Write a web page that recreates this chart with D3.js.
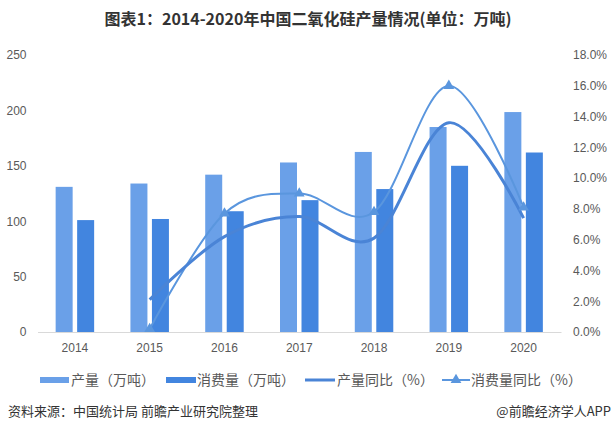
<!DOCTYPE html>
<html>
<head>
<meta charset="utf-8">
<script src="https://cdn.jsdelivr.net/npm/d3@7"></script>
<style>
  body { margin: 0; background: #fff; }
  text { font-family: "Noto Sans CJK SC", "Noto Sans", sans-serif; }
</style>
</head>
<body>
<div id="chart"></div>
<script>
var years = ["2014", "2015", "2016", "2017", "2018", "2019", "2020"];
var production = [131, 134, 142, 153, 162.5, 185, 198.5];
var consumption = [101, 102, 109, 119, 129, 150, 162];
var prodGrowth = [null, 2.1, 6.2, 7.5, 6.1, 13.6, 7.4];
var consGrowth = [null, 0.2, 7.7, 9.0, 7.8, 16.0, 8.1];
var leftTicks = [0, 50, 100, 150, 200, 250];
var rightTicks = [0, 2, 4, 6, 8, 10, 12, 14, 16, 18];

var W = 614, H = 433;
var plotLeft = 37.5, plotRight = 561, plotTop = 55, plotBottom = 332;

var svg = d3.select("#chart").append("svg")
    .attr("width", W)
    .attr("height", H);

// title
svg.append("text")
    .attr("x", W / 2 + 1)
    .attr("y", 25)
    .attr("text-anchor", "middle")
    .style("font-size", "16px")
    .style("font-weight", "bold")
    .style("fill", "#333")
    .text("图表1：2014-2020年中国二氧化硅产量情况(单位：万吨)");

var x = d3.scaleBand()
    .domain(years)
    .range([plotLeft, plotRight]);

var y = d3.scaleLinear()
    .domain([0, 250])
    .range([plotBottom, plotTop]);

var y2 = d3.scaleLinear()
    .domain([0, 18])
    .range([plotBottom, plotTop]);

// axes
var axisL = svg.append("g")
    .attr("transform", "translate(" + plotLeft + ",0)")
    .call(d3.axisLeft(y).tickValues(leftTicks).tickSize(0).tickPadding(11));
axisL.select(".domain").remove();

var axisR = svg.append("g")
    .attr("transform", "translate(" + plotRight + ",0)")
    .call(d3.axisRight(y2).tickValues(rightTicks).tickSize(0).tickPadding(12)
        .tickFormat(function (d) { return d.toFixed(1) + "%"; }));
axisR.select(".domain").remove();

var axisB = svg.append("g")
    .attr("transform", "translate(0," + plotBottom + ")")
    .call(d3.axisBottom(x).tickSize(0).tickPadding(11));
axisB.select(".domain").attr("stroke", "#d9d9d9");

svg.selectAll(".tick text")
    .style("font-size", "12px")
    .style("fill", "#595959")
    .style("font-family", "\"Liberation Sans\", sans-serif");

// bars
var barW = 17, gap = 4.5;
svg.selectAll(".prod")
    .data(production)
    .enter()
    .append("rect")
    .attr("x", function (d, i) { return x(years[i]) + x.bandwidth() / 2 - gap / 2 - barW; })
    .attr("y", function (d) { return y(d); })
    .attr("width", barW)
    .attr("height", function (d) { return plotBottom - y(d); })
    .attr("fill", "#6aa0e8");

svg.selectAll(".cons")
    .data(consumption)
    .enter()
    .append("rect")
    .attr("x", function (d, i) { return x(years[i]) + x.bandwidth() / 2 + gap / 2; })
    .attr("y", function (d) { return y(d); })
    .attr("width", barW)
    .attr("height", function (d) { return plotBottom - y(d); })
    .attr("fill", "#4285df");

// lines
function pts(arr) {
    return arr.map(function (v, i) { return { year: years[i], value: v }; })
        .filter(function (d) { return d.value !== null; });
}

var line = d3.line()
    .x(function (d) { return x(d.year) + x.bandwidth() / 2; })
    .y(function (d) { return y2(d.value); })
    .curve(d3.curveCardinal.tension(0));

svg.append("path")
    .attr("d", line(pts(consGrowth)))
    .attr("fill", "none")
    .attr("stroke", "#5a96de")
    .attr("stroke-width", 2);

svg.append("path")
    .attr("d", line(pts(prodGrowth)))
    .attr("fill", "none")
    .attr("stroke", "#4a84d6")
    .attr("stroke-width", 3);

var tri = d3.symbol().type(d3.symbolTriangle).size(50);
svg.selectAll(".tri")
    .data(pts(consGrowth))
    .enter()
    .append("path")
    .attr("d", tri)
    .attr("transform", function (d) {
        return "translate(" + (x(d.year) + x.bandwidth() / 2) + "," + y2(d.value) + ")";
    })
    .attr("fill", "#5a96de");

// legend
var lg = svg.append("g").attr("transform", "translate(0,380)");
lg.append("rect").attr("x", 40).attr("y", -3).attr("width", 29).attr("height", 6).attr("fill", "#6aa0e8");
lg.append("text").attr("x", 71).attr("y", 5).text("产量（万吨）");
lg.append("rect").attr("x", 166).attr("y", -3).attr("width", 30).attr("height", 6).attr("fill", "#4285df");
lg.append("text").attr("x", 197).attr("y", 5).text("消费量（万吨）");
lg.append("line").attr("x1", 305).attr("x2", 335).attr("y1", 0).attr("y2", 0)
    .attr("stroke", "#4a84d6").attr("stroke-width", 3);
lg.append("text").attr("x", 337).attr("y", 5).text("产量同比（%）");
lg.append("line").attr("x1", 442).attr("x2", 470).attr("y1", 0).attr("y2", 0)
    .attr("stroke", "#5a96de").attr("stroke-width", 2);
lg.append("path").attr("d", tri).attr("transform", "translate(456,0)").attr("fill", "#5a96de");
lg.append("text").attr("x", 471).attr("y", 5).text("消费量同比（%）");
lg.selectAll("text").style("font-size", "14px").style("fill", "#595959");

// footer
svg.append("text")
    .attr("x", 8)
    .attr("y", 416)
    .style("font-size", "13px")
    .style("fill", "#333")
    .text("资料来源：中国统计局 前瞻产业研究院整理");

svg.append("text")
    .attr("x", 611)
    .attr("y", 416)
    .attr("text-anchor", "end")
    .style("font-size", "13px")
    .style("fill", "#333")
    .text("@前瞻经济学人APP");
</script>
</body>
</html>
